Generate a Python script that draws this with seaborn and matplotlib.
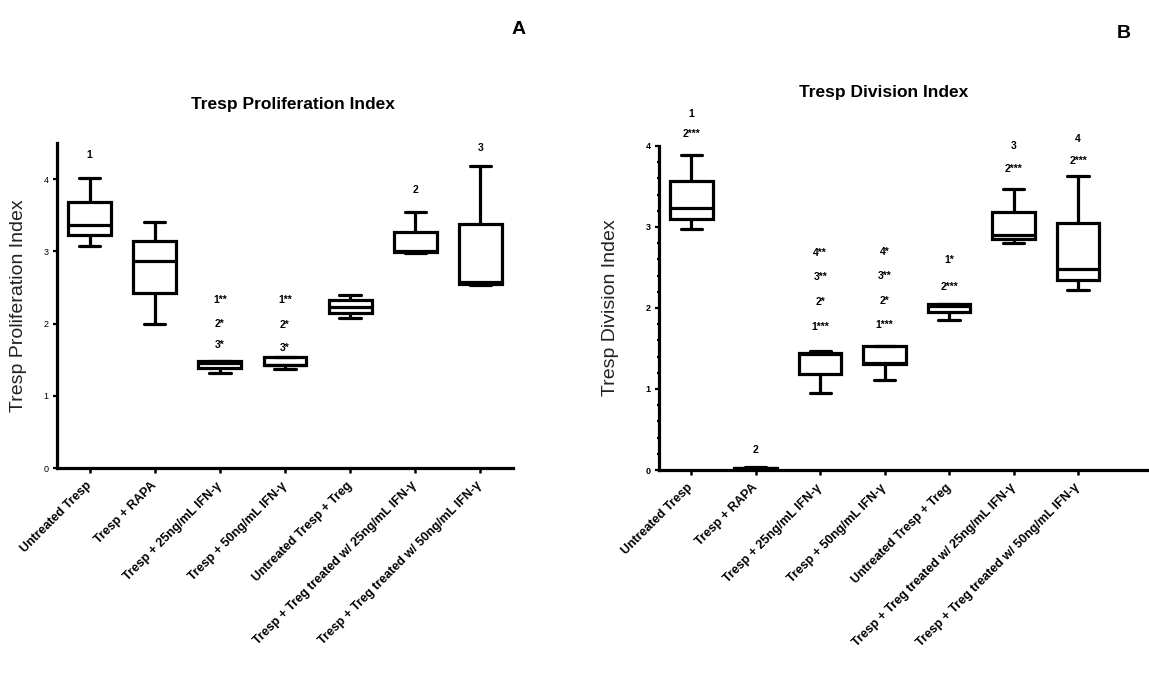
import matplotlib
matplotlib.use("Agg")
import matplotlib.pyplot as plt
from matplotlib.ticker import MultipleLocator
import numpy as np
import pandas as pd
import seaborn as sns

# Treatment groups (shared by both panels)
groups = [
    "Untreated Tresp",
    "Tresp + RAPA",
    "Tresp + 25ng/mL IFN-γ",
    "Tresp + 50ng/mL IFN-γ",
    "Untreated Tresp + Treg",
    "Tresp + Treg treated w/ 25ng/mL IFN-γ",
    "Tresp + Treg treated w/ 50ng/mL IFN-γ",
]

# Panel A - proliferation index five-number summaries (min, Q1, median, Q3, max)
prolif_min = [3.08, 2.00, 1.32, 1.375, 2.08, 2.98, 2.54]
prolif_q1 = [3.23, 2.43, 1.38, 1.42, 2.15, 2.99, 2.55]
prolif_med = [3.37, 2.87, 1.46, 1.43, 2.23, 3.01, 2.57]
prolif_q3 = [3.69, 3.14, 1.48, 1.54, 2.32, 3.27, 3.38]
prolif_max = [4.01, 3.41, 1.48, 1.54, 2.40, 3.54, 4.18]

# Panel B - division index five-number summaries
div_min = [2.97, 0.00, 0.95, 1.11, 1.85, 2.80, 2.22]
div_q1 = [3.10, 0.01, 1.18, 1.31, 1.95, 2.85, 2.34]
div_med = [3.24, 0.02, 1.43, 1.32, 2.03, 2.90, 2.48]
div_q3 = [3.57, 0.03, 1.45, 1.53, 2.05, 3.19, 3.05]
div_max = [3.89, 0.04, 1.47, 1.53, 2.05, 3.47, 3.63]

# Significance annotations: group index, height, text
prolif_note_pos = [0, 2, 2, 2, 3, 3, 3, 5, 6]
prolif_note_y = [4.34, 2.32, 1.99, 1.71, 2.32, 1.98, 1.66, 3.85, 4.43]
prolif_note_text = ["1", "1**", "2*", "3*", "1**", "2*", "3*", "2", "3"]

div_note_pos = [0, 0, 1, 2, 2, 2, 2, 3, 3, 3, 3, 4, 4, 5, 5, 6, 6]
div_note_y = [4.40, 4.15, 0.25, 2.68, 2.38, 2.08, 1.77, 2.69, 2.40, 2.09, 1.79,
              2.59, 2.26, 4.00, 3.71, 4.09, 3.81]
div_note_text = ["1", "2***", "2", "4**", "3**", "2*", "1***", "4*", "3**", "2*", "1***",
                 "1*", "2***", "3", "2***", "4", "2***"]


def long_frame(mins, q1s, meds, q3s, maxs):
    rows = []
    for g, a, b, c, d, e in zip(groups, mins, q1s, meds, q3s, maxs):
        for v in (a, b, c, d, e):
            rows.append({"group": g, "value": v})
    return pd.DataFrame(rows)


prolif_df = long_frame(prolif_min, prolif_q1, prolif_med, prolif_q3, prolif_max)
div_df = long_frame(div_min, div_q1, div_med, div_q3, div_max)

sns.set_style("ticks")
plt.rcParams["font.family"] = ["Liberation Sans", "DejaVu Sans"]
plt.rcParams["text.color"] = "black"
plt.rcParams["xtick.color"] = "black"
plt.rcParams["ytick.color"] = "black"

W, H = 1149, 679
fig = plt.figure(figsize=(W / 100, H / 100), dpi=100)

ax_a = fig.add_axes([57 / W, (H - 468) / H, 456 / W, 325 / H])
ax_b = fig.add_axes([659 / W, (H - 470) / H, 490 / W, 324 / H])

LW = 2.3


def draw_panel(ax, df, ylim, xmax, note_pos, note_y, note_text, ylabel, bold_yticks):
    sns.boxplot(data=df, x="group", y="value", order=groups, ax=ax,
                whis=(0, 100), width=0.66, color="white", linecolor="black",
                linewidth=LW, saturation=1, showfliers=False)
    ax.set_xlim(-0.5, xmax)
    ax.set_ylim(*ylim)
    ax.set_xlabel("")
    ax.set_ylabel(ylabel, fontsize=14, color="#222222")
    for side in ("top", "right"):
        ax.spines[side].set_visible(False)
    for side in ("left", "bottom"):
        ax.spines[side].set_linewidth(LW)
        ax.spines[side].set_color("black")
    ax.set_yticks(range(0, int(ylim[1]) + 1))
    ax.set_xticks(range(len(groups)))
    ax.set_xticklabels(groups, rotation=45, ha="right", va="center",
                       rotation_mode="anchor", fontweight="bold", fontsize=9)
    ax.tick_params(axis="x", length=3.5, width=1.8, pad=8, colors="black")
    ax.tick_params(axis="y", length=3, width=1.6, pad=3, labelsize=6.5,
                   colors="black")
    if bold_yticks:
        for t in ax.get_yticklabels():
            t.set_fontweight("bold")
    for x, y, s in zip(note_pos, note_y, note_text):
        ax.text(x, y, s, ha="center", va="center", fontsize=7.5,
                fontweight="bold", color="black", clip_on=False)


draw_panel(ax_a, prolif_df, (0, 4.5), 6.5, prolif_note_pos, prolif_note_y,
           prolif_note_text, "Tresp Proliferation Index", False)
draw_panel(ax_b, div_df, (0, 4), 7.1, div_note_pos, div_note_y,
           div_note_text, "Tresp Division Index", True)

ax_b.yaxis.set_minor_locator(MultipleLocator(0.2))
ax_b.tick_params(axis="y", which="minor", length=1.5, width=1.6, colors="black")

ax_a.yaxis.set_label_coords((27 - 57) / 456, 0.5)
ax_b.yaxis.set_label_coords((619 - 659) / 490, 0.5)

# Panel titles and letters
fig.text(293 / W, 1 - 104 / H, "Tresp Proliferation Index", ha="center", va="center",
         fontsize=12.5, fontweight="bold", color="black")
fig.text(884 / W, 1 - 92 / H, "Tresp Division Index", ha="center", va="center",
         fontsize=12.5, fontweight="bold", color="black")
fig.text(519 / W, 1 - 29 / H, "A", ha="center", va="center", fontsize=14,
         fontweight="bold", color="black")
fig.text(1124 / W, 1 - 34 / H, "B", ha="center", va="center", fontsize=14,
         fontweight="bold", color="black")

fig.savefig("out.png", dpi=100)
